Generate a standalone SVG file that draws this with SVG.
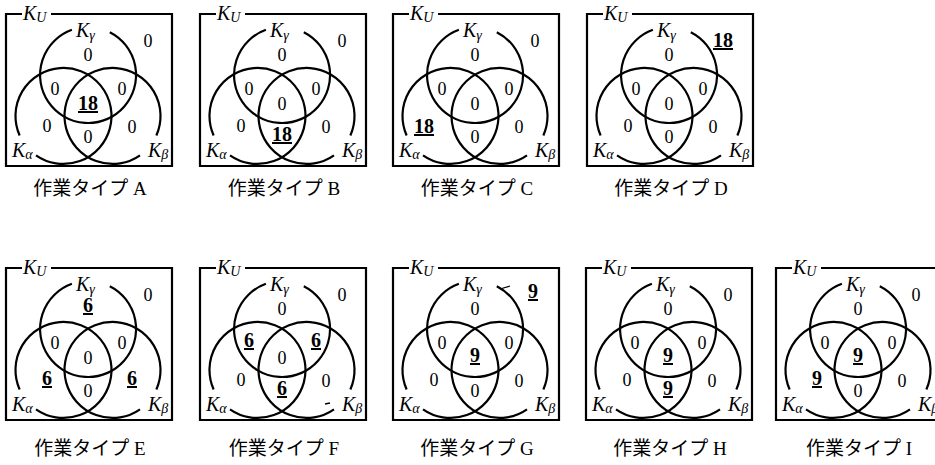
<svg xmlns="http://www.w3.org/2000/svg" xmlns:xlink="http://www.w3.org/1999/xlink" width="935" height="465" viewBox="0 0 935 465">
<style>
.ln{fill:none;stroke:#000;stroke-width:2.2}
.art{fill:none;stroke:#000;stroke-width:1.3}
.n{font-family:"Liberation Serif",serif;font-size:18px;text-anchor:middle;fill:#000}
.b{font-weight:bold;font-size:20px;text-decoration:underline}
.k{font-family:"Liberation Serif",serif;font-style:italic;font-size:20px;fill:#000}
.s{font-size:14px}
.cap{font-family:"Liberation Serif","Noto Sans CJK JP",serif;font-size:19px;text-anchor:middle;fill:#000}
</style>
<defs>
<g id="venn">
<path class="ln" d="M16,0 H0 V152 H166 V0 H45"/>
<path class="ln" d="M103.8,18.2 A48,48 0 1 1 65.9,15.8"/>
<path class="ln" d="M13.65,121.5 A48,48 0 1 1 30,141.3"/>
<path class="ln" d="M134,141.3 A48,48 0 1 1 150.35,121.5"/>
<text class="k" x="17" y="6">K<tspan class="s" dy="2">U</tspan></text>
<text class="k" x="70" y="23">K<tspan class="s" dy="3">γ</tspan></text>
<text class="k" x="6" y="143">K<tspan class="s" dy="2">α</tspan></text>
<text class="k" x="142" y="143">K<tspan class="s" dy="2">β</tspan></text>
</g>
</defs>

<g id="panel-A" transform="translate(6,14)">
<use xlink:href="#venn"/>
<text class="n" x="142" y="33">0</text>
<text class="n" x="82" y="47">0</text>
<text class="n" x="49" y="81">0</text>
<text class="n" x="116" y="81">0</text>
<text class="n b" x="82" y="96">18</text>
<text class="n" x="41" y="118">0</text>
<text class="n" x="126" y="119">0</text>
<text class="n" x="82" y="129">0</text>
</g>
<g id="panel-B" transform="translate(200,14)">
<use xlink:href="#venn"/>
<text class="n" x="142" y="33">0</text>
<text class="n" x="82" y="47">0</text>
<text class="n" x="49" y="81">0</text>
<text class="n" x="116" y="81">0</text>
<text class="n" x="82" y="96">0</text>
<text class="n" x="41" y="118">0</text>
<text class="n" x="126" y="119">0</text>
<text class="n b" x="82" y="127">18</text>
</g>
<g id="panel-C" transform="translate(393,14)">
<use xlink:href="#venn"/>
<text class="n" x="142" y="33">0</text>
<text class="n" x="82" y="47">0</text>
<text class="n" x="49" y="81">0</text>
<text class="n" x="116" y="81">0</text>
<text class="n" x="82" y="96">0</text>
<text class="n b" x="31" y="119">18</text>
<text class="n" x="126" y="119">0</text>
<text class="n" x="82" y="129">0</text>
</g>
<g id="panel-D" transform="translate(587,14)">
<use xlink:href="#venn"/>
<text class="n b" x="136" y="33">18</text>
<text class="n" x="82" y="47">0</text>
<text class="n" x="49" y="81">0</text>
<text class="n" x="116" y="81">0</text>
<text class="n" x="82" y="96">0</text>
<text class="n" x="41" y="118">0</text>
<text class="n" x="126" y="119">0</text>
<text class="n" x="82" y="129">0</text>
</g>

<g id="panel-E" transform="translate(6,268)">
<use xlink:href="#venn"/>
<text class="n" x="142" y="33">0</text>
<text class="n b" x="82" y="44">6</text>
<text class="n" x="49" y="81">0</text>
<text class="n" x="116" y="81">0</text>
<text class="n" x="82" y="96">0</text>
<text class="n b" x="41" y="117">6</text>
<text class="n" x="82" y="129">0</text>
<text class="n b" x="126" y="117">6</text>
</g>
<g id="panel-F" transform="translate(200,268)">
<use xlink:href="#venn"/>
<text class="n" x="142" y="33">0</text>
<text class="n" x="82" y="47">0</text>
<text class="n b" x="49" y="79">6</text>
<text class="n b" x="116" y="79">6</text>
<text class="n" x="82" y="96">0</text>
<text class="n" x="41" y="118">0</text>
<text class="n" x="126" y="119">0</text>
<text class="n b" x="82" y="127">6</text>
<path class="art" d="M125,136 L130,135"/>
</g>
<g id="panel-G" transform="translate(393,268)">
<use xlink:href="#venn"/>
<text class="n b" x="140" y="30">9</text>
<text class="n" x="82" y="47">0</text>
<text class="n" x="49" y="81">0</text>
<text class="n" x="116" y="81">0</text>
<text class="n b" x="82" y="94">9</text>
<text class="n" x="41" y="118">0</text>
<text class="n" x="126" y="119">0</text>
<text class="n" x="82" y="129">0</text>
<path class="art" d="M107,21 L117,18"/>
</g>
<g id="panel-H" transform="translate(586,268)">
<use xlink:href="#venn"/>
<text class="n" x="142" y="33">0</text>
<text class="n" x="82" y="47">0</text>
<text class="n" x="49" y="81">0</text>
<text class="n" x="116" y="81">0</text>
<text class="n b" x="82" y="94">9</text>
<text class="n" x="41" y="118">0</text>
<text class="n" x="126" y="119">0</text>
<text class="n b" x="82" y="127">9</text>
</g>
<g id="panel-I" transform="translate(776,268)">
<use xlink:href="#venn"/>
<text class="n" x="140" y="33">0</text>
<text class="n" x="82" y="47">0</text>
<text class="n" x="49" y="81">0</text>
<text class="n" x="116" y="81">0</text>
<text class="n b" x="82" y="94">9</text>
<text class="n b" x="41" y="117">9</text>
<text class="n" x="126" y="119">0</text>
<text class="n" x="82" y="129">0</text>
</g>

<g id="captions">
<text class="cap" x="90" y="195">作業タイプ A</text>
<text class="cap" x="284" y="195">作業タイプ B</text>
<text class="cap" x="477" y="195">作業タイプ C</text>
<text class="cap" x="671" y="195">作業タイプ D</text>
<text class="cap" x="90" y="455">作業タイプ E</text>
<text class="cap" x="284" y="455">作業タイプ F</text>
<text class="cap" x="477" y="455">作業タイプ G</text>
<text class="cap" x="670" y="455">作業タイプ H</text>
<text class="cap" x="859" y="455">作業タイプ I</text>
</g>
</svg>
